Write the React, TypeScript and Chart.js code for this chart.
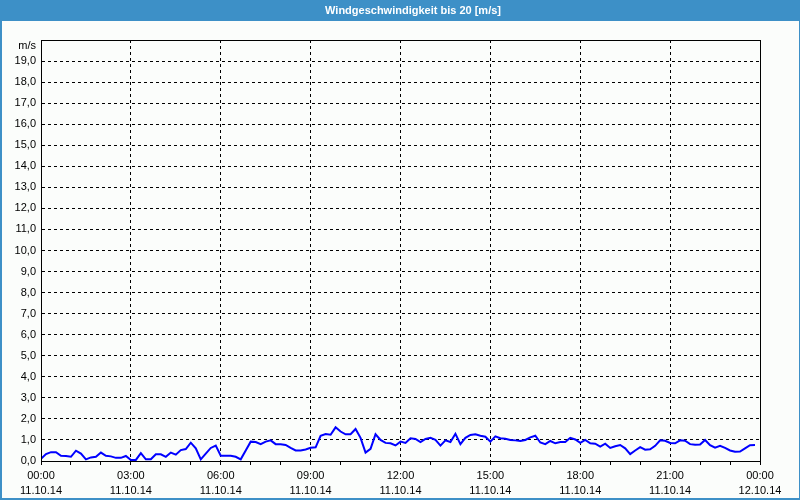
import React, { useEffect, useRef } from "react";
import { Chart, registerables } from "chart.js";

Chart.register(...registerables);

const TITLE = "Windgeschwindigkeit bis 20 [m/s]";
const UNIT_LABEL = "m/s";
const START_DATE = "11.10.14";
const END_DATE = "12.10.14";
const STEP_MINUTES = 10;
const DAY_MINUTES = 1440;
const Y_MAX = 20;

// wind speed in m/s, one value every 10 minutes from 00:00 to 23:50
const windSpeed = [
  0.10, 0.33, 0.42, 0.42, 0.25, 0.24, 0.20, 0.49, 0.35, 0.08, 0.17, 0.20,
  0.40, 0.25, 0.22, 0.15, 0.15, 0.24, 0.05, 0.05, 0.37, 0.08, 0.08, 0.32,
  0.32, 0.20, 0.40, 0.30, 0.52, 0.57, 0.87, 0.60, 0.08, 0.35, 0.62, 0.73,
  0.25, 0.25, 0.25, 0.20, 0.08, 0.50, 0.92, 0.90, 0.80, 0.92, 0.98, 0.80,
  0.79, 0.76, 0.62, 0.50, 0.50, 0.55, 0.63, 0.65, 1.20, 1.28, 1.25, 1.60,
  1.40, 1.27, 1.27, 1.52, 1.10, 0.40, 0.58, 1.27, 1.00, 0.86, 0.84, 0.74,
  0.92, 0.86, 1.08, 1.05, 0.90, 1.05, 1.10, 1.00, 0.73, 0.98, 0.90, 1.29,
  0.80, 1.10, 1.24, 1.27, 1.20, 1.15, 0.92, 1.17, 1.08, 1.06, 1.00, 0.98,
  0.95, 1.00, 1.12, 1.20, 0.88, 0.80, 0.95, 0.84, 0.90, 0.90, 1.10, 1.02,
  0.86, 1.00, 0.84, 0.82, 0.68, 0.82, 0.62, 0.70, 0.76, 0.60, 0.33, 0.50,
  0.66, 0.54, 0.56, 0.72, 0.98, 0.96, 0.86, 0.84, 0.98, 0.96, 0.80, 0.77,
  0.78, 1.00, 0.75, 0.63, 0.72, 0.62, 0.50, 0.44, 0.45, 0.60, 0.75, 0.76,
];

const FONT = "'Liberation Sans', Arial, sans-serif";

const pad2 = (n: number) => String(n).padStart(2, "0");

const framePlugin = {
  id: "frame",
  beforeDraw(chart: any) {
    const { ctx, width, height } = chart;
    ctx.save();
    ctx.fillStyle = "#fbfdfb";
    ctx.fillRect(0, 0, width, height);
    ctx.fillStyle = "#3d90c7";
    ctx.fillRect(0, 0, width, 21);
    ctx.fillRect(0, 0, 2, height);
    ctx.fillRect(width - 1, 0, 1, height);
    ctx.fillRect(0, height - 2, width, 2);
    ctx.fillStyle = "#ffffff";
    ctx.font = `bold 11px ${FONT}`;
    ctx.textAlign = "center";
    ctx.textBaseline = "middle";
    ctx.fillText(TITLE, 413, 11);
    ctx.restore();
  },
  afterDraw(chart: any) {
    const { ctx, chartArea } = chart;
    const { left, right, top, bottom } = chartArea;
    ctx.save();
    ctx.strokeStyle = "#000000";
    ctx.lineWidth = 1;
    ctx.setLineDash([]);
    ctx.strokeRect(Math.round(left) + 0.5, Math.round(top) + 0.5, Math.round(right) - Math.round(left), Math.round(bottom) - Math.round(top));
    ctx.fillStyle = "#000000";
    ctx.font = `11px ${FONT}`;
    ctx.textAlign = "right";
    ctx.textBaseline = "middle";
    ctx.fillText(UNIT_LABEL, left - 5, top + 6);
    ctx.restore();
  },
};

export default function App() {
  const canvasRef = useRef<HTMLCanvasElement | null>(null);

  useEffect(() => {
    document.body.style.margin = "0";
    const canvas = canvasRef.current;
    if (!canvas) return;
    const points = windSpeed.map((v, i) => ({ x: i * STEP_MINUTES, y: v }));
    const chart = new Chart(canvas, {
      type: "line",
      data: {
        datasets: [
          {
            data: points,
            borderColor: "#0000ff",
            borderWidth: 2,
            pointRadius: 0,
            tension: 0,
            fill: false,
          },
        ],
      },
      options: {
        animation: false,
        responsive: false,
        devicePixelRatio: 1,
        layout: { padding: { left: 0, top: 40, right: 40, bottom: 0 } },
        plugins: {
          legend: { display: false },
          tooltip: { enabled: false },
          title: { display: false },
        },
        scales: {
          x: {
            type: "linear",
            min: 0,
            max: DAY_MINUTES,
            afterFit: (s: any) => {
              s.height = 39;
            },
            grid: {
              color: (c: any) => (c.tick && c.tick.value % 180 === 0 ? "#000000" : "rgba(0,0,0,0)"),
              tickColor: "#000000",
              tickLength: 4,
              lineWidth: 1,
            },
            border: { display: true, color: "#000000", width: 1, dash: [3, 3] },
            ticks: {
              stepSize: 60,
              autoSkip: false,
              maxRotation: 0,
              minRotation: 0,
              padding: 3,
              color: "#000000",
              font: { family: FONT, size: 11, lineHeight: "15px" },
              callback: (value: any) => {
                const v = Number(value);
                if (v % 180 !== 0) return "";
                const mins = v % DAY_MINUTES;
                const label = `${pad2(Math.floor(mins / 60))}:${pad2(mins % 60)}`;
                return [label, v >= DAY_MINUTES ? END_DATE : START_DATE];
              },
            },
          },
          y: {
            min: 0,
            max: Y_MAX,
            afterFit: (s: any) => {
              s.width = 41;
            },
            grid: { color: "#000000", drawTicks: false, lineWidth: 1 },
            border: { display: true, color: "#000000", width: 1, dash: [3, 3] },
            ticks: {
              stepSize: 1,
              padding: 5,
              color: "#000000",
              font: { family: FONT, size: 11 },
              callback: (value: any) => {
                const v = Number(value);
                if (v >= Y_MAX) return "";
                return v.toFixed(1).replace(".", ",");
              },
            },
          },
        },
      },
      plugins: [framePlugin],
    } as any);
    return () => chart.destroy();
  }, []);

  return (
    <div style={{ position: "absolute", left: 0, top: 0, width: 800, height: 500 }}>
      <canvas ref={canvasRef} width={800} height={500} style={{ display: "block" }} />
    </div>
  );
}
